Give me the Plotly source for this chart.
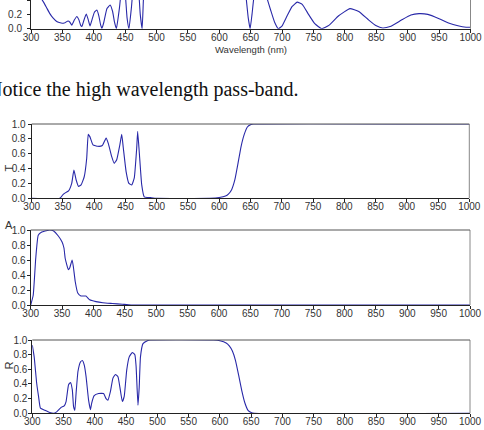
import plotly.graph_objects as go

# ---------------- data ----------------
# top (partially visible) panel: reflectance of previous design
wl_top = [300, 305, 310, 315, 320, 325, 330, 335, 341, 345, 350, 354, 359, 362, 365, 369, 373, 376,
          379, 381, 384, 388, 391, 394, 397, 401, 405, 408, 411, 413, 416, 421, 426, 430, 433, 436,
          441, 446, 450, 453, 456, 460, 466, 471, 474, 477, 479, 482, 490, 500, 600, 630, 638, 643,
          646, 649, 652, 656, 665, 675, 682, 688, 694, 700, 708, 716, 724, 732, 742, 752, 763, 775,
          790, 808, 822, 838, 850, 860, 872, 890, 905, 918, 932, 950, 965, 980, 993, 1000]
val_top = [0.75, 0.62, 0.52, 0.44, 0.37, 0.29, 0.21, 0.15, 0.10, 0.085, 0.075, 0.084, 0.107, 0.09, 0.05, 0.12, 0.17, 0.13,
           0.05, 0.03, 0.11, 0.205, 0.13, 0.037, 0.12, 0.23, 0.26, 0.18, 0.05, 0.005, 0.09, 0.28, 0.33, 0.24, 0.09, 0.0,
           0.3, 0.7, 0.5, 0.15, 0.0, 0.3, 0.9, 0.6, 0.2, 0.0, 0.4, 0.85, 0.98, 0.99, 0.99, 0.97, 0.8, 0.4,
           0.15, 0.0, 0.2, 0.5, 0.7, 0.45, 0.25, 0.09, 0.0, 0.04, 0.18, 0.31, 0.37, 0.34, 0.2, 0.07, 0.0, 0.05,
           0.18, 0.28, 0.24, 0.12, 0.04, 0.01, 0.03, 0.12, 0.19, 0.21, 0.2, 0.14, 0.08, 0.04, 0.02, 0.02]

# transmittance
wl_T = [300, 345, 350, 355, 359, 364, 367.5, 371, 375, 379, 384, 388, 390.5, 393, 398, 406, 413, 419,
        422.5, 428, 432, 436, 441, 444, 446.5, 451, 455.5, 460, 464, 468, 469.5, 472, 476, 480, 490,
        500, 585, 600, 610, 615, 620, 625, 630, 635, 640, 645, 650, 655, 1000]
val_T = [0.0, 0.0, 0.05, 0.08, 0.10, 0.20, 0.38, 0.25, 0.16, 0.18, 0.29, 0.54, 0.86, 0.83, 0.72, 0.70, 0.71, 0.81,
         0.74, 0.56, 0.47, 0.52, 0.72, 0.86, 0.68, 0.36, 0.20, 0.18, 0.27, 0.68, 0.90, 0.63, 0.18, 0.02, 0.01,
         0.0, 0.0, 0.01, 0.03, 0.06, 0.12, 0.25, 0.47, 0.70, 0.86, 0.96, 0.99, 1.0, 1.0]

# absorptance
wl_A = [300, 304, 308, 312, 317, 325, 330, 336, 344, 350, 353, 355, 360, 362, 366, 368, 371, 375,
        380, 388, 394, 404, 415, 430, 446, 460, 1000]
val_A = [0.0, 0.13, 0.62, 0.93, 0.97, 0.99, 1.0, 0.99, 0.92, 0.84, 0.76, 0.62, 0.47, 0.49, 0.60, 0.51, 0.31, 0.16,
         0.12, 0.12, 0.07, 0.045, 0.03, 0.02, 0.01, 0.0, 0.0]

# reflectance
wl_R = [300, 303, 307, 310, 313, 320, 328, 334, 339, 346, 351, 354, 358, 361, 364, 366, 368, 370, 373, 377,
        380, 383, 386, 390, 393, 395, 399, 406, 414, 418, 421, 425, 429, 433, 437, 440, 444, 447, 451, 455,
        460, 464, 466, 469, 471, 473, 477, 484, 489, 590, 600, 610, 615, 620, 625, 630, 635, 640, 645, 650,
        655, 1000]
val_R = [0.93, 0.77, 0.41, 0.23, 0.07, 0.04, 0.01, 0.0, 0.02, 0.08, 0.10, 0.16, 0.39, 0.42, 0.32, 0.09, 0.04, 0.27, 0.57, 0.70,
         0.72, 0.66, 0.50, 0.18, 0.05, 0.14, 0.24, 0.27, 0.27, 0.20, 0.18, 0.30, 0.48, 0.53, 0.50, 0.36, 0.16, 0.23, 0.59, 0.77,
         0.83, 0.80, 0.64, 0.11, 0.36, 0.77, 0.95, 0.99, 1.0, 1.0, 0.99, 0.96, 0.92, 0.85, 0.72, 0.52, 0.31, 0.14, 0.04, 0.01,
         0.0, 0.0]

x_ticks = list(range(300, 1001, 50))
y_ticks = [0.0, 0.2, 0.4, 0.6, 0.8, 1.0]

# ---------------- layout helpers ----------------
W, H = 484, 430
def fx(p):
    return p / W
def fy(p):
    return 1 - p / H

LINE = "#2828a8"
AX = "#222222"
TICKFONT = dict(family="Liberation Sans, Arial, sans-serif", size=10, color="#333333")

# panel pixel boxes: (left, right, top, bottom, y-range, y label standoff)
panels = [
    (31.0, 470.5, 0.0, 28.7, [0, 0.4], 3),
    (31.7, 469.3, 124.0, 198.3, [0, 1], 0),
    (30.7, 470.0, 230.0, 305.0, [0, 1], -1),
    (32.3, 470.0, 340.0, 413.3, [0, 1], -1),
]
series = [(wl_top, val_top), (wl_T, val_T), (wl_A, val_A), (wl_R, val_R)]

fig = go.Figure()
layout = {}
shapes = []
for i, ((l, r, t, b, yr, ysd), (xs, ys)) in enumerate(zip(panels, series)):
    n = "" if i == 0 else str(i + 1)
    fig.add_trace(go.Scatter(x=xs, y=ys, mode="lines", xaxis="x" + n, yaxis="y" + n,
                             line=dict(color=LINE, width=1.1, shape="spline", smoothing=0.4),
                             showlegend=False, hoverinfo="skip"))
    layout["xaxis" + n] = dict(domain=[fx(l), fx(r)], range=[300, 1000], anchor="y" + n,
                               tickvals=x_ticks, ticks="outside", ticklen=3, tickcolor=AX,
                               showline=True, linecolor=AX, linewidth=1, showgrid=False,
                               zeroline=False, tickfont=TICKFONT, automargin=False,
                               fixedrange=True, ticklabelstandoff=-4)
    layout["yaxis" + n] = dict(domain=[fy(b), fy(t)], range=yr, anchor="x" + n,
                               tickvals=y_ticks, tickformat=".1f", ticks="outside", ticklen=3,
                               tickcolor=AX, showline=True, linecolor=AX, linewidth=1,
                               showgrid=False, zeroline=False, tickfont=TICKFONT,
                               automargin=False, fixedrange=True, ticklabelstandoff=ysd)
    xr = "x" + n + " domain"
    yrf = "y" + n + " domain"
    shapes.append(dict(type="line", xref=xr, yref=yrf, x0=1, x1=1, y0=0, y1=1,
                       line=dict(color="#888888", width=1)))
    if i > 0:
        shapes.append(dict(type="line", xref=xr, yref=yrf, x0=0, x1=1, y0=1, y1=1,
                           line=dict(color="#555555", width=1)))

SANS = "Liberation Sans, Arial, sans-serif"
annotations = [
    dict(text="Wavelength (nm)", x=fx(250.5), y=fy(49), xref="paper", yref="paper",
         showarrow=False, xanchor="center", yanchor="middle",
         font=dict(family=SANS, size=9.5, color="#333333")),
    dict(text="Notice the high wavelength pass-band.", x=fx(-14.4), y=fy(89), xref="paper",
         yref="paper", showarrow=False, xanchor="left", yanchor="middle",
         font=dict(family="Liberation Serif, Times New Roman, serif", size=20, color="#111111")),
    dict(text="T", x=fx(8), y=fy(168.5), xref="paper", yref="paper", showarrow=False,
         textangle=-90, xanchor="center", yanchor="middle",
         font=dict(family=SANS, size=11, color="#333333")),
    dict(text="A", x=fx(8.5), y=fy(224.5), xref="paper", yref="paper", showarrow=False,
         xanchor="center", yanchor="middle",
         font=dict(family=SANS, size=11, color="#333333")),
    dict(text="R", x=fx(8.5), y=fy(366), xref="paper", yref="paper", showarrow=False,
         textangle=-90, xanchor="center", yanchor="middle",
         font=dict(family=SANS, size=11, color="#333333")),
    dict(text="Wavelength (nm)", x=fx(251), y=fy(433.5), xref="paper", yref="paper",
         showarrow=False, xanchor="center", yanchor="middle",
         font=dict(family=SANS, size=9.5, color="#333333")),
]

fig.update_layout(width=W, height=H, margin=dict(l=0, r=0, t=0, b=0),
                  paper_bgcolor="white", plot_bgcolor="white",
                  shapes=shapes, annotations=annotations, **layout)
fig.write_html("out.html", config={"displayModeBar": False})
